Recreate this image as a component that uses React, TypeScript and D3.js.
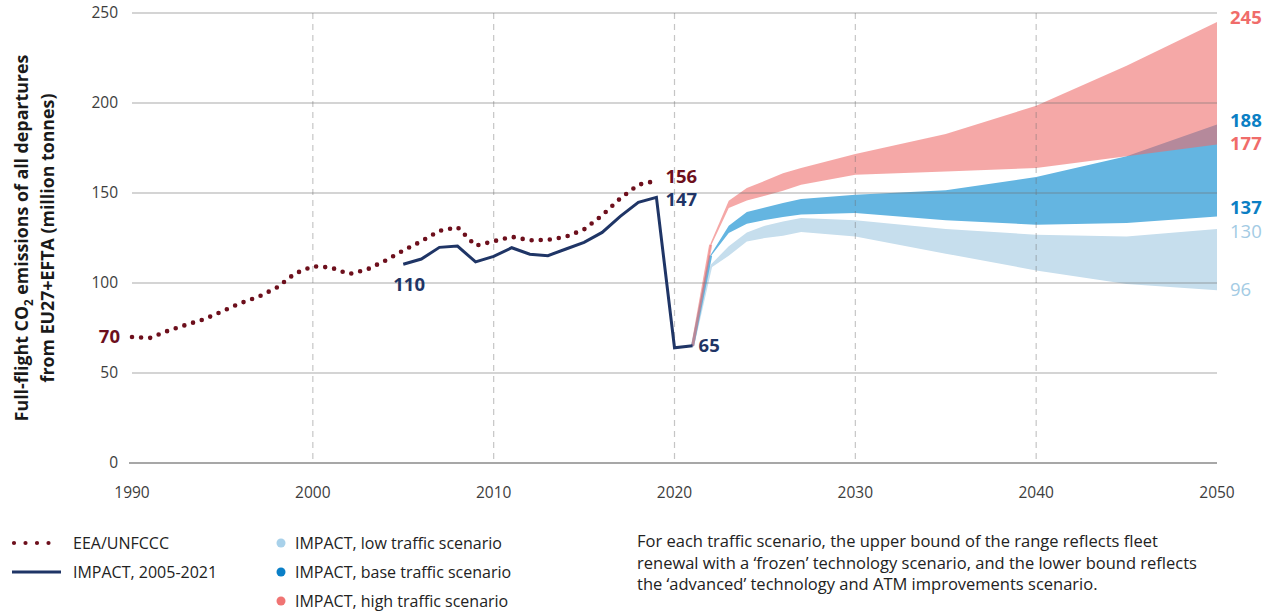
import React from "react";
import * as d3 from "d3";

const eeaYears = d3.range(1990, 2020);
const eeaValues = [70, 69.5, 73.5, 76.8, 79.9, 84.3, 88.8, 92.4, 97.4, 105.2, 109.3, 108.6, 105, 107.5, 112.4, 118, 123.2, 129, 131, 120.7, 123.2, 125.7, 123.7, 124, 125.7, 129.8, 137.6, 147, 154.6, 156.8];

const impactYears = d3.range(2005, 2022);
const impactValues = [110.4, 113.3, 119.8, 120.5, 111.7, 114.8, 119.6, 116, 115.2, 118.9, 122.6, 128.1, 137, 144.8, 147.6, 64, 65.2];

const scenarioYears = [2021, 2022, 2023, 2024, 2025, 2026, 2027, 2030, 2035, 2040, 2045, 2050];
const highUpper = [65, 122.2, 145.7, 152.8, 156.8, 161, 163.9, 171.7, 182.8, 198.5, 220.7, 245];
const highLower = [65, 120.3, 141.7, 145.9, 148.5, 151.3, 154.6, 160.2, 162, 163.9, 170.4, 177];
const baseUpper = [65, 115.7, 131.8, 139.4, 142, 144.4, 146.7, 149, 151.5, 158.9, 170.4, 188];
const baseLower = [65, 114.8, 127.8, 132.9, 135, 136.7, 138, 138.9, 134.8, 132.4, 133.3, 137];
const lowUpper = [65, 110.2, 120.4, 128.1, 131.8, 134.2, 136.1, 134.8, 130, 126.8, 125.9, 130];
const lowLower = [65, 108.3, 115.2, 123.1, 125, 126.3, 128.3, 125.9, 116.3, 107, 99.4, 96];

const yTicks = [0, 50, 100, 150, 200, 250];
const xTicks = [1990, 2000, 2010, 2020, 2030, 2040, 2050];
const vGridYears = [2000, 2010, 2020, 2030, 2040];

const FONT = "'Open Sans', 'Noto Sans', sans-serif";
const C_EEA = "#6d0f1c";
const C_IMPACT = "#1f3566";
const C_LOW = "#c6deed";
const C_BASE = "#64b5e1";
const C_HIGH = "#ee6b69";
const C_LOW_TXT = "#a3cbe4";
const C_BASE_TXT = "#0b7fc4";
const C_HIGH_TXT = "#f06c6a";

export default function App() {
  const W = 1272, H = 612;
  const x = d3.scaleLinear().domain([1990, 2050]).range([132, 1217]);
  const y = d3.scaleLinear().domain([0, 250]).range([463, 13]);

  const line = d3.line<[number, number]>().x(d => x(d[0])).y(d => y(d[1]));

  const band = (up: number[], lo: number[]) =>
    d3.area<number>()
      .x((_, i) => x(scenarioYears[i]))
      .y0((_, i) => y(lo[i]))
      .y1((_, i) => y(up[i]))(up) || "";

  // first segment (2021-2022) drawn as a thin line so the narrow start is visible
  const startSeg = (up: number[], lo: number[]) =>
    line([
      [scenarioYears[0], (up[0] + lo[0]) / 2],
      [scenarioYears[1], (up[1] + lo[1]) / 2],
    ]) || "";

  const eeaPts = eeaYears.map((yr, i) => [yr, eeaValues[i]] as [number, number]);
  const impPts = impactYears.map((yr, i) => [yr, impactValues[i]] as [number, number]);

  const last = scenarioYears.length - 1;
  const lx = x(2050) + 13;
  const DL = 18.5;

  return (
    <svg width={W} height={H} style={{ position: "absolute", left: 0, top: 0, background: "#fff" }} fontFamily={FONT}>
      {/* bands */}
      <path d={band(lowUpper, lowLower)} fill={C_LOW} />
      <path d={startSeg(lowUpper, lowLower)} fill="none" stroke={C_LOW} strokeWidth={3} />
      <path d={band(baseUpper, baseLower)} fill={C_BASE} />
      <path d={startSeg(baseUpper, baseLower)} fill="none" stroke={C_BASE} strokeWidth={3} />
      <path d={band(highUpper, highLower)} fill={C_HIGH} fillOpacity={0.59} />
      <path d={startSeg(highUpper, highLower)} fill="none" stroke={C_HIGH} strokeOpacity={0.59} strokeWidth={3} />

      {/* grid */}
      {yTicks.map(t => (
        <line key={"h" + t} x1={t === 0 ? 129 : x(1990)} x2={x(2050)} y1={y(t)} y2={y(t)}
          stroke={t === 0 ? "#8a8a8a" : "#6e6e6e"} strokeOpacity={t === 0 ? 1 : 0.4} strokeWidth={t === 0 ? 1.6 : 1.3} />
      ))}
      {vGridYears.map(t => (
        <line key={"v" + t} x1={x(t)} x2={x(t)} y1={y(250)} y2={y(0)}
          stroke="#6e6e6e" strokeOpacity={0.4} strokeWidth={1.2} strokeDasharray="6 5" />
      ))}

      {/* tick labels */}
      {yTicks.map(t => (
        <text key={"yt" + t} x={118} y={y(t)} dy="0.35em" textAnchor="end" fontSize={15.5} fill="#3d3d3d">{t}</text>
      ))}
      {xTicks.map(t => (
        <text key={"xt" + t} x={x(t)} y={493} dy="0.35em" textAnchor="middle" fontSize={15.5} fill="#3d3d3d">{t}</text>
      ))}

      {/* y axis title */}
      <g transform="translate(22,238) rotate(-90)">
        <text textAnchor="middle" fontSize={17.8} fontWeight={700} fill="#1a1a1a" dy="0.35em">
          Full-flight CO<tspan fontSize={11.5} dy="5">2</tspan><tspan dy="-5"> emissions of all departures</tspan>
        </text>
      </g>
      <g transform="translate(48,238) rotate(-90)">
        <text textAnchor="middle" fontSize={17.8} fontWeight={700} fill="#1a1a1a" dy="0.35em">
          from EU27+EFTA (million tonnes)
        </text>
      </g>

      {/* lines */}
      <path d={line(eeaPts) || ""} fill="none" stroke={C_EEA} strokeWidth={4.6} strokeLinecap="round" strokeDasharray="0 9.1" />
      <path d={line(impPts) || ""} fill="none" stroke={C_IMPACT} strokeWidth={3} strokeLinejoin="miter" />

      {/* data labels */}
      <text x={120} y={y(eeaValues[0])} dy="0.35em" textAnchor="end" fontSize={DL} fontWeight={700} fill={C_EEA}>70</text>
      <text x={x(2005) - 10} y={285} dy="0.35em" fontSize={DL} fontWeight={700} fill={C_IMPACT}>110</text>
      <text x={x(2019) + 9} y={177} dy="0.35em" fontSize={DL} fontWeight={700} fill={C_EEA}>156</text>
      <text x={x(2019) + 9} y={200} dy="0.35em" fontSize={DL} fontWeight={700} fill={C_IMPACT}>147</text>
      <text x={x(2021) + 6} y={346} dy="0.35em" fontSize={DL} fontWeight={700} fill={C_IMPACT}>65</text>

      <text x={lx} y={y(highUpper[last]) - 4} dy="0.35em" fontSize={DL} fontWeight={700} fill={C_HIGH_TXT}>245</text>
      <text x={lx} y={y(baseUpper[last]) - 4.5} dy="0.35em" fontSize={DL} fontWeight={700} fill={C_BASE_TXT}>188</text>
      <text x={lx} y={y(highLower[last]) - 1} dy="0.35em" fontSize={DL} fontWeight={700} fill={C_HIGH_TXT}>177</text>
      <text x={lx} y={y(baseLower[last]) - 9} dy="0.35em" fontSize={DL} fontWeight={700} fill={C_BASE_TXT}>137</text>
      <text x={lx} y={y(lowUpper[last]) + 2.5} dy="0.35em" fontSize={DL} fontWeight={400} fill={C_LOW_TXT}>130</text>
      <text x={lx} y={y(lowLower[last]) - 1} dy="0.35em" fontSize={DL} fontWeight={400} fill={C_LOW_TXT}>96</text>

      {/* legend */}
      <line x1={14} x2={60} y1={543} y2={543} stroke={C_EEA} strokeWidth={4.2} strokeLinecap="round" strokeDasharray="0 11.5" />
      <text x={73} y={543} dy="0.35em" fontSize={16} fill="#222">EEA/UNFCCC</text>
      <line x1={12} x2={61} y1={572} y2={572} stroke={C_IMPACT} strokeWidth={3.2} />
      <text x={73} y={572} dy="0.35em" fontSize={16} fill="#222">IMPACT, 2005-2021</text>

      <circle cx={281} cy={543} r={4.5} fill="#a8d1ea" />
      <text x={295} y={543} dy="0.35em" fontSize={16} fill="#222">IMPACT, low traffic scenario</text>
      <circle cx={281} cy={572} r={4.5} fill="#0a7fc7" />
      <text x={295} y={572} dy="0.35em" fontSize={16} fill="#222">IMPACT, base traffic scenario</text>
      <circle cx={281} cy={601} r={4.5} fill="#f07473" />
      <text x={295} y={601} dy="0.35em" fontSize={16} fill="#222">IMPACT, high traffic scenario</text>

      <text x={637} fontSize={16.5} fill="#222">
        <tspan x={637} y={541} dy="0.35em">For each traffic scenario, the upper bound of the range reflects fleet</tspan>
        <tspan x={637} y={563} dy="0.35em">renewal with a ‘frozen’ technology scenario, and the lower bound reflects</tspan>
        <tspan x={637} y={584} dy="0.35em">the ‘advanced’ technology and ATM improvements scenario.</tspan>
      </text>
    </svg>
  );
}
